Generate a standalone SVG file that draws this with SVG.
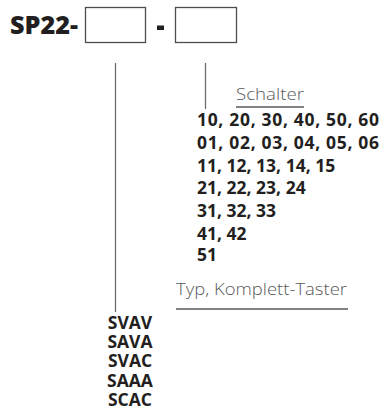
<svg xmlns="http://www.w3.org/2000/svg" width="382" height="412" viewBox="0 0 382 412">
<style>
.title{font-family:"Open Sans","DejaVu Sans",sans-serif;font-weight:800;font-size:24px;fill:#231f20}
.box{fill:#fff;stroke:#4d4d4d;stroke-width:1.3}
.lbl{font-family:"Open Sans","DejaVu Sans",sans-serif;font-weight:300;font-size:17px;fill:#58595b}
.val{font-family:"Open Sans","DejaVu Sans",sans-serif;font-weight:700;font-size:17.5px;fill:#231f20}
.ln{stroke:#6d6e71;stroke-width:1.3;fill:none}
</style>
<rect width="382" height="412" fill="#fff"/>
<g id="code">
<text class="title" x="10" y="33.5" textLength="68" lengthAdjust="spacingAndGlyphs">SP22-</text>
<rect class="box" x="85.5" y="7.5" width="60" height="35"/>
<rect x="157" y="25.5" width="7" height="4.5" fill="#231f20"/>
<rect class="box" x="175.5" y="7.5" width="61" height="35"/>
</g>
<g id="connectors">
<line class="ln" x1="115.5" y1="63" x2="115.5" y2="312"/>
<line class="ln" x1="205.5" y1="63" x2="205.5" y2="109"/>
<line x1="236" y1="107" x2="304" y2="107" stroke="#808285" stroke-width="2"/>
<line x1="176" y1="309" x2="348" y2="309" stroke="#58595b" stroke-width="1.3"/>
</g>
<g id="schalter">
<text class="lbl" x="236" y="100" textLength="68" lengthAdjust="spacingAndGlyphs">Schalter</text>
<text class="val" x="197" y="125.5" textLength="182" lengthAdjust="spacing">10, 20, 30, 40, 50, 60</text>
<text class="val" x="197" y="148.5" textLength="182" lengthAdjust="spacing">01, 02, 03, 04, 05, 06</text>
<text class="val" x="197" y="171.5">11, 12, 13, 14, 15</text>
<text class="val" x="197" y="194">21, 22, 23, 24</text>
<text class="val" x="197" y="217">31, 32, 33</text>
<text class="val" x="197" y="240">41, 42</text>
<text class="val" x="197" y="261">51</text>
</g>
<g id="typ">
<text class="lbl" x="176" y="295" textLength="171" lengthAdjust="spacingAndGlyphs">Typ, Komplett-Taster</text>
<text class="val" x="130" y="329" text-anchor="middle">SVAV</text>
<text class="val" x="130" y="348" text-anchor="middle">SAVA</text>
<text class="val" x="130" y="367" text-anchor="middle">SVAC</text>
<text class="val" x="130" y="387" text-anchor="middle">SAAA</text>
<text class="val" x="130" y="406" text-anchor="middle">SCAC</text>
</g>
</svg>
